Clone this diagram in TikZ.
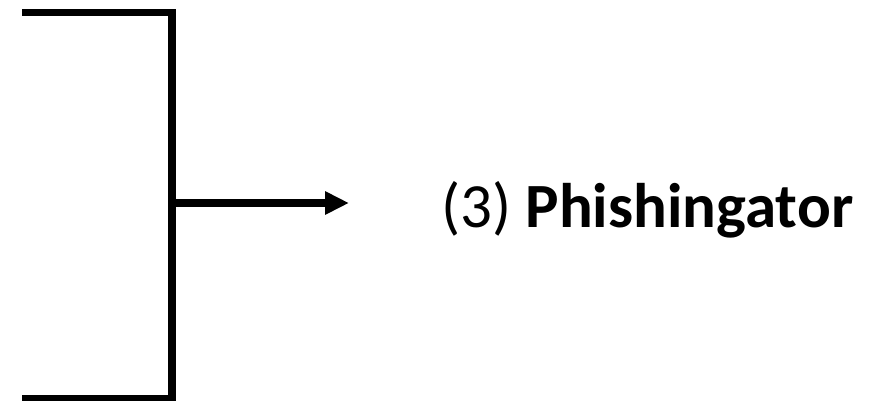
\documentclass[tikz,border=0pt]{standalone}
\usepackage{fontspec}
\setmainfont{Carlito}
\usetikzlibrary{arrows.meta}
\begin{document}
\begin{tikzpicture}[x=1pt,y=-1pt,
  bracketline/.style={line width=7.5pt,line join=miter,line cap=butt},
  arrowline/.style={line width=7.5pt,-{Triangle[length=24pt,width=22pt]}},
  label/.style={inner sep=0pt,anchor=base west,font=\fontsize{50}{60}\selectfont}]
\useasboundingbox (0,0) rectangle (871,400);
\coordinate (tl) at (22,12.5);
\coordinate (tr) at (172,12.5);
\coordinate (br) at (172,398.5);
\coordinate (bl) at (22,398.5);
\coordinate (mid) at (172,203);
\coordinate (tip) at (349,203);
\draw[bracketline] (tl) -- (tr) -- (br) -- (bl);
\draw[arrowline] (mid) -- (tip);
\node[label] (lab) at (441,227) {\resizebox{412pt}{!}{(3) \textbf{Phishingator}}};
\end{tikzpicture}
\end{document}
